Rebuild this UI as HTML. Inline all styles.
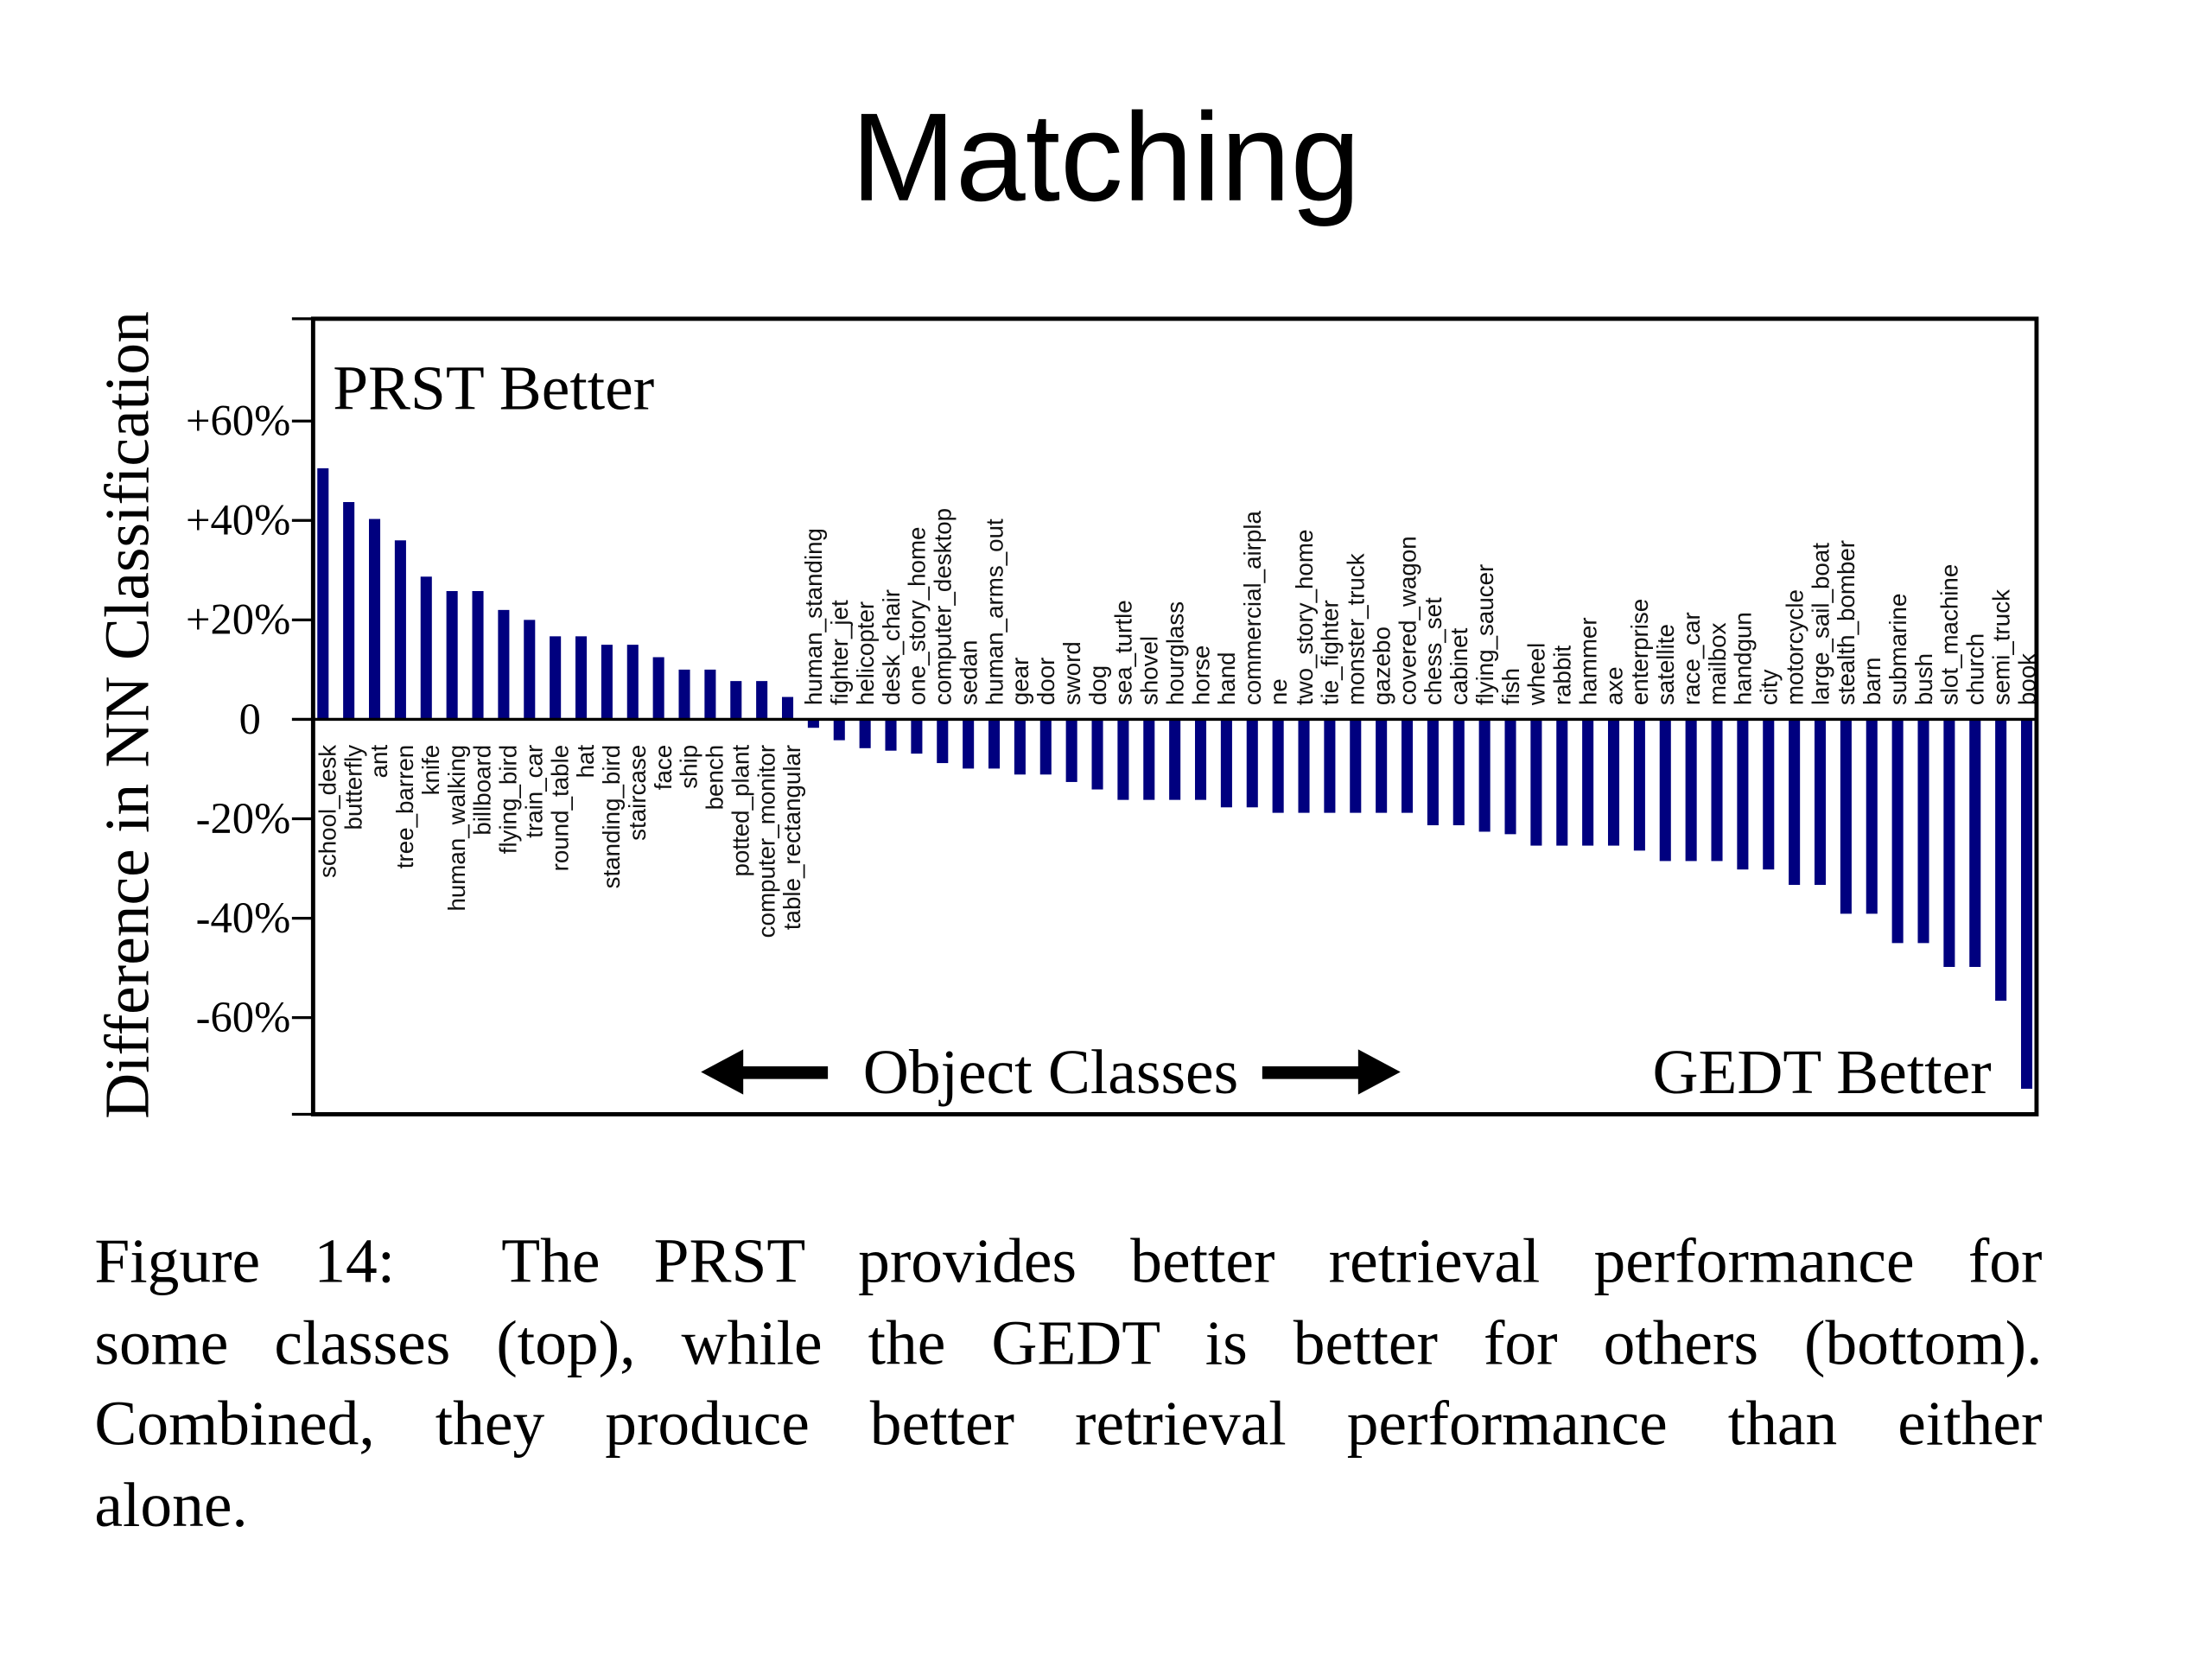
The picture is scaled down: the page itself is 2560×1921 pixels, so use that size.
<!DOCTYPE html>
<html><head><meta charset="utf-8">
<style>
html,body{margin:0;padding:0;background:#fff;}
#stage{width:1569px;height:1177px;transform:scale(1.63223);transform-origin:0 0;position:relative;overflow:hidden;background:#fff;}
#title{position:absolute;left:0;width:1568px;top:60px;text-align:center;font-family:"Liberation Sans",sans-serif;font-size:89px;color:#000;}
#caption{position:absolute;left:67px;width:1381px;top:866px;font-family:"Liberation Serif",serif;font-size:45px;color:#000;line-height:57.6px;}
#caption div{text-align:justify;text-align-last:justify;white-space:nowrap;}
#caption div.last{text-align-last:left;}
svg{position:absolute;left:0;top:0;}
</style></head>
<body>
<div id="stage">
<div id="title">Matching</div>
<svg id="chart" width="1569" height="1177" viewBox="0 0 1569 1177"></svg>
<div id="caption">
<div>Figure 14:&nbsp; The PRST provides better retrieval performance for</div>
<div>some classes (top), while the GEDT is better for others (bottom).</div>
<div>Combined, they produce better retrieval performance than either</div>
<div class="last">alone.</div>
</div>
</div>
<script>
const categories = ["school_desk","butterfly","ant","tree_barren","knife","human_walking","billboard","flying_bird","train_car","round_table","hat","standing_bird","staircase","face","ship","bench","potted_plant","computer_monitor","table_rectangular",
"human_standing","fighter_jet","helicopter","desk_chair","one_story_home","computer_desktop","sedan","human_arms_out","gear","door","sword","dog","sea_turtle","shovel","hourglass","horse","hand","commercial_airpla","ne","two_story_home","tie_fighter","monster_truck","gazebo","covered_wagon","chess_set","cabinet","flying_saucer","fish","wheel","rabbit","hammer","axe","enterprise","satellite","race_car","mailbox","handgun","city","motorcycle","large_sail_boat","stealth_bomber","barn","submarine","bush","slot_machine","church","semi_truck","book"];
const values = [50.5,43.7,40.3,36,28.7,25.8,25.8,22,20,16.7,16.7,15,15,12.5,10,10,7.7,7.7,4.5,
-1.7,-4.2,-5.8,-6.3,-6.9,-8.8,-9.9,-9.9,-11.1,-11.1,-12.6,-14.1,-16.2,-16.2,-16.2,-16.2,-17.7,-17.7,-18.8,-18.8,-18.8,-18.8,-18.8,-18.8,-21.3,-21.3,-22.6,-23.1,-25.4,-25.4,-25.4,-25.4,-26.4,-28.5,-28.5,-28.5,-30.2,-30.2,-33.3,-33.3,-39.1,-39.1,-45,-45,-49.8,-49.8,-56.6,-74.3];
const yTicks = [60,40,20,0,-20,-40,-60];
const yTickLabels = ["+60%","+40%","+20%","0","-20%","-40%","-60%"];

const NS = "http://www.w3.org/2000/svg";
const svg = document.getElementById("chart");
const box = {l:222, t:226, r:1444, b:790};
const y = v => 510 - v * 70.5 / 20;
const x = i => 229 + i * (1437 - 229) / (categories.length - 1);
function mk(tag, attrs, parent){ const e=document.createElementNS(NS,tag); for(const k in attrs) e.setAttribute(k,attrs[k]); (parent||svg).appendChild(e); return e; }

const gBars = mk("g",{});


values.forEach((v,i)=>{
  const y0=y(0), y1=y(v);
  const r = mk("rect",{x:x(i)-4, y:Math.min(y0,y1), width:8, height:Math.abs(y1-y0), fill:"#00007f"}, gBars);
  
  
});
const zl = mk("line",{x1:box.l, x2:box.r, y1:y(0), y2:y(0), stroke:"#000", "stroke-width":2});


const gLab = mk("g",{"font-family":"Liberation Sans, sans-serif","font-size":"17",fill:"#111"});


categories.forEach((c,i)=>{
  const v=values[i];
  const lx = x(i) + (v>=0 ? 9 : 6);
  const ly = v>=0 ? y(0)+18 : y(0)-10;
  const t = mk("text",{x:lx, y:ly, transform:`rotate(-90 ${lx} ${ly})`, "text-anchor": v>=0 ? "end" : "start"}, gLab);
  t.textContent = c;
  
  
});
const fr = mk("rect",{x:box.l, y:box.t, width:box.r-box.l, height:box.b-box.t, fill:"none", stroke:"#000", "stroke-width":3});


const gT = mk("g",{"font-family":"Liberation Serif, serif","font-size":"31",fill:"#000"});


[box.t, box.b].forEach(py=>{ mk("line",{x1:207,x2:box.l,y1:py,y2:py,stroke:"#000","stroke-width":2},gT); });
yTicks.forEach((v,i)=>{
  mk("line",{x1:207,x2:box.l,y1:y(v),y2:y(v),stroke:"#000","stroke-width":2},gT);
  const t = mk("text",{x: v===0 ? 185 : 206, y:y(v)+10, "text-anchor":"end"},gT);
  t.textContent = yTickLabels[i];
  
  
});
const yt = mk("text",{x:105, y:507, transform:"rotate(-90 105 507)", "text-anchor":"middle","font-family":"Liberation Serif, serif","font-size":"45",fill:"#000"});
yt.textContent = "Difference in NN Classification";


const a1 = mk("text",{x:236,y:290,"font-family":"Liberation Serif, serif","font-size":"45",fill:"#000"});
a1.textContent="PRST Better";


const a2 = mk("text",{x:1412,y:775,"text-anchor":"end","font-family":"Liberation Serif, serif","font-size":"45",fill:"#000"});
a2.textContent="GEDT Better";


const a3 = mk("text",{x:745,y:775,"text-anchor":"middle","font-family":"Liberation Serif, serif","font-size":"45",fill:"#000"});
a3.textContent="Object Classes";


const ar1 = mk("path",{d:"M497 760 L527 744 L527 756 L587 756 L587 765 L527 765 L527 776 Z",fill:"#000"});


const ar2 = mk("path",{d:"M993 760 L963 744 L963 756 L895 756 L895 765 L963 765 L963 776 Z",fill:"#000"});


</script>
</body></html>
